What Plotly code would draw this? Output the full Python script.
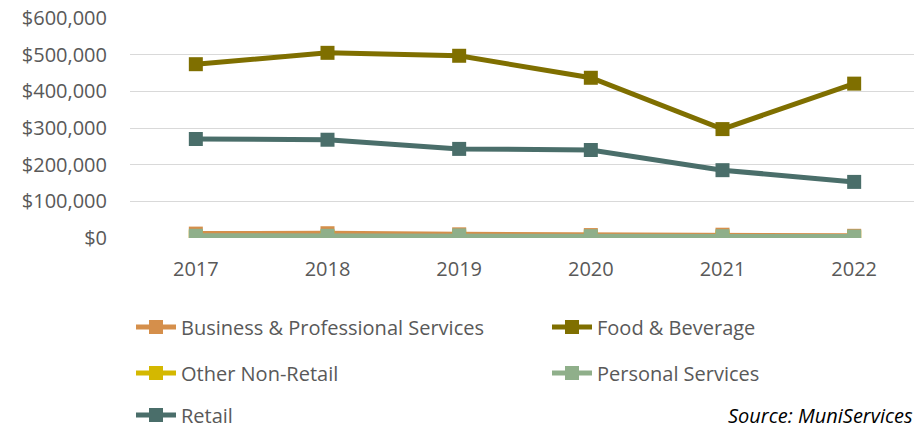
import plotly.graph_objects as go

years = ["2017", "2018", "2019", "2020", "2021", "2022"]

business = [12000, 13000, 10000, 8000, 9000, 6000]
food_bev = [474000, 505000, 497000, 437000, 297000, 421000]
other_non_retail = [2000, 2000, 2000, 1500, 1500, 1500]
personal = [6000, 6000, 7000, 5000, 5000, 4000]
retail = [270000, 268000, 243000, 240000, 185000, 153000]

y_ticks = [0, 100000, 200000, 300000, 400000, 500000, 600000]
y_tick_text = ["$0", "$100,000", "$200,000", "$300,000", "$400,000", "$500,000", "$600,000"]

FONT = "Open Sans, Liberation Sans, sans-serif"
TEXT = "#595959"
FS = 20

# page body has an 8px margin, so the figure is drawn 8px smaller and offset
W, H = 914, 420

series = [
    ("Business & Professional Services", business, "#D58F4B", "legend"),
    ("Food & Beverage", food_bev, "#7F6F00", "legend2"),
    ("Other Non-Retail", other_non_retail, "#D4B800", "legend3"),
    ("Personal Services", personal, "#8FAF8A", "legend4"),
    ("Retail", retail, "#4A6E6A", "legend5"),
]

fig = go.Figure()
for name, vals, col, leg in series:
    fig.add_trace(go.Scatter(
        x=years, y=vals, name=name, mode="lines+markers",
        line=dict(color=col, width=5),
        marker=dict(symbol="square", size=14, color=col),
        legend=leg, showlegend=True,
    ))

def leg(x, y):
    return dict(
        orientation="h", xref="container", yref="container",
        x=x, y=y, xanchor="left", yanchor="middle",
        font=dict(family=FONT, size=FS, color=TEXT),
        itemwidth=40, bgcolor="rgba(0,0,0,0)", visible=True,
    )

col1, col2 = 123 / W, 539 / W
row1, row2, row3 = 1 - 319 / H, 1 - 365 / H, 1 - 407 / H

fig.add_annotation(
    text="<i>Source: MuniServices</i>", xref="paper", yref="paper",
    x=0.994, y=-0.805, xanchor="right", yanchor="middle", showarrow=False,
    font=dict(family=FONT, size=FS, color="#000000"),
)

fig.update_layout(
    width=W, height=H,
    showlegend=True,
    margin=dict(l=122, r=2, t=10, b=190),
    plot_bgcolor="white", paper_bgcolor="white",
    font=dict(family=FONT, size=FS, color=TEXT),
    xaxis=dict(
        type="category", range=[-0.5, 5.5], showgrid=False, zeroline=False,
        showline=False, ticks="outside", ticklen=13, tickcolor="rgba(0,0,0,0)",
        tickfont=dict(size=FS, color=TEXT), automargin=False,
    ),
    yaxis=dict(
        range=[0, 600000], tickvals=y_ticks, ticktext=y_tick_text,
        showgrid=True, gridcolor="#D9D9D9", gridwidth=1.3, zeroline=False,
        showline=False, ticks="outside", ticklen=18, tickcolor="rgba(0,0,0,0)",
        tickfont=dict(size=FS, color=TEXT), ticklabeloverflow="allow",
        automargin=False,
    ),
    legend=leg(col1, row1),
    legend2=leg(col2, row1),
    legend3=leg(col1, row2),
    legend4=leg(col2, row2),
    legend5=leg(col1, row3),
)

fig.write_html("out.html")
